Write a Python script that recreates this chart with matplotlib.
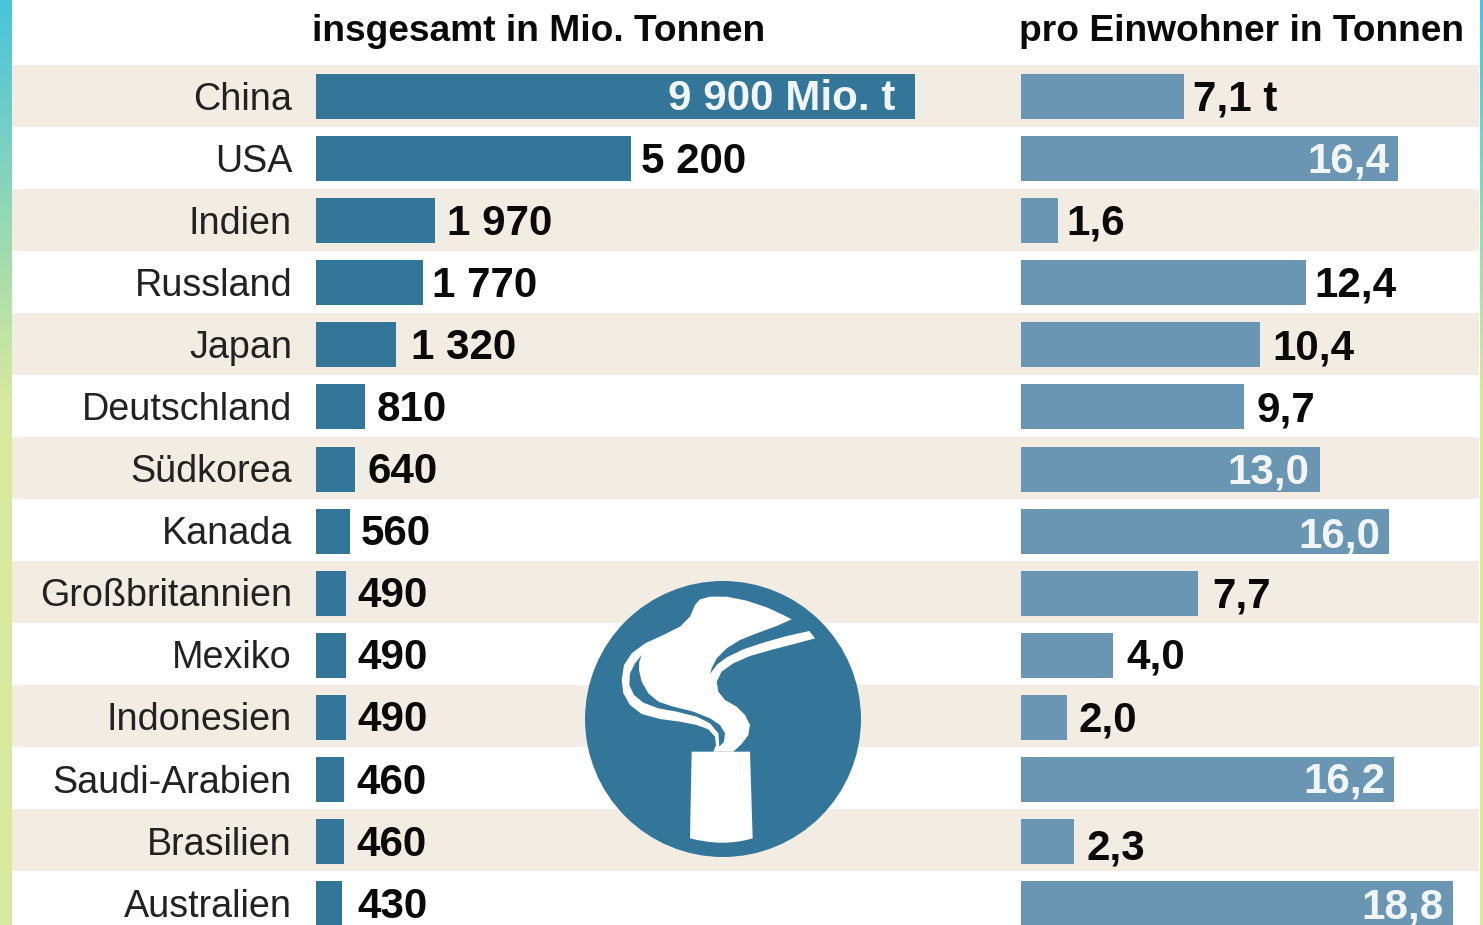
import numpy as np
from matplotlib import pyplot as plt
from matplotlib.colors import LinearSegmentedColormap
from matplotlib.patches import Circle, Polygon
from matplotlib.path import Path
from matplotlib.patches import PathPatch

countries = ["China", "USA", "Indien", "Russland", "Japan", "Deutschland", "Südkorea", "Kanada",
             "Großbritannien", "Mexiko", "Indonesien", "Saudi-Arabien", "Brasilien", "Australien"]
total_mio_t = [9900, 5200, 1970, 1770, 1320, 810, 640, 560, 490, 490, 490, 460, 460, 430]
total_labels = ["9 900 Mio. t", "5 200", "1 970", "1 770", "1 320", "810", "640", "560",
                "490", "490", "490", "460", "460", "430"]
per_head_t = [7.1, 16.4, 1.6, 12.4, 10.4, 9.7, 13.0, 16.0, 7.7, 4.0, 2.0, 16.2, 2.3, 18.8]
per_head_labels = ["7,1 t", "16,4", "1,6", "12,4", "10,4", "9,7", "13,0", "16,0",
                   "7,7", "4,0", "2,0", "16,2", "2,3", "18,8"]

W, H = 1483, 925
DARK = "#34759a"
LIGHT = "#6a96b3"
BAND = "#f3ece3"
ROW_H = 62.1
ROW_0 = 96.5
BAND_H = 62

plt.rcParams["font.family"] = ["Liberation Sans", "DejaVu Sans"]
fig = plt.figure(figsize=(W / 100, H / 100), dpi=100)

# background in pixels
bg = fig.add_axes([0, 0, 1, 1])
bg.set_xlim(0, W)
bg.set_ylim(H, 0)
bg.axis("off")

strip = LinearSegmentedColormap.from_list(
    "strip", [(0, "#48c4dc"), (0.12, "#6fcdc8"), (0.28, "#a4dcae"), (0.43, "#d6e99c"), (1, "#d6e99c")])
grad = np.linspace(0, 1, 256).reshape(-1, 1)
bg.imshow(grad, cmap=strip, extent=(0, 12, H, 0), aspect="auto")
bg.imshow(grad, cmap=strip, extent=(1480, W, H, 0), aspect="auto")
bg.set_xlim(0, W)
bg.set_ylim(H, 0)

for i, name in enumerate(countries):
    cy = ROW_0 + i * ROW_H
    if i % 2 == 0:
        top = 65 + i * BAND_H
        bg.fill_between([12, 1478.5], top, top + BAND_H, color=BAND, lw=0)
    bg.text(292, cy + 13, name, ha="right", va="baseline", fontsize=27.2, color="#222222")

bg.text(312, 41, "insgesamt in Mio. Tonnen", fontsize=26.7, fontweight="bold", color="#0a0a0a")
bg.text(1019, 41, "pro Einwohner in Tonnen", fontsize=26.7, fontweight="bold", color="#0a0a0a")

bg.add_patch(Circle((723, 719), 138, color=DARK, lw=0, zorder=3))


def icon_pts(pts):
    return [(570 + x / 3, 570 + y / 3) for x, y in pts]


smoke = [(390, 88), (420, 80), (470, 80), (530, 92), (590, 112), (640, 135), (665, 148), (620, 168),
         (560, 190), (510, 210), (470, 235), (440, 265), (425, 295), (420, 312), (440, 285), (470, 262),
         (520, 238), (580, 218), (650, 198), (718, 183), (735, 205), (680, 220), (610, 238), (540, 258),
         (490, 280), (455, 305), (440, 335), (445, 365), (465, 390), (500, 410), (525, 435), (540, 465),
         (535, 495), (515, 522), (490, 545), (430, 545), (438, 525), (435, 500), (415, 478), (380, 465),
         (330, 455), (270, 447), (215, 432), (180, 405), (160, 370), (155, 330), (162, 285), (185, 250),
         (225, 220), (280, 195), (330, 170), (360, 140), (375, 105)]
bg.add_patch(Polygon(icon_pts(smoke), closed=True, fc="white", lw=0, zorder=4))

wisp = [(215, 255), (195, 280), (180, 310), (178, 345), (192, 375), (220, 398), (265, 415), (320, 425),
        (380, 440), (420, 460), (445, 490), (448, 530), (462, 515), (465, 490), (450, 465), (420, 445),
        (370, 425), (310, 410), (265, 395), (235, 370), (215, 335), (207, 300), (208, 275)]
bg.add_patch(Polygon(icon_pts(wisp), closed=True, fc=DARK, lw=0, zorder=5))

stack = [(365, 545), (540, 545), (548, 805), (480, 825), (420, 820), (360, 805), (365, 545)]
stack_codes = [Path.MOVETO, Path.LINETO, Path.LINETO, Path.CURVE4, Path.CURVE4, Path.CURVE4, Path.CLOSEPOLY]
bg.add_patch(PathPatch(Path(icon_pts(stack), stack_codes), fc="white", lw=0, zorder=6))


def bar_axes(x0, x1, xmax):
    ax = fig.add_axes([x0 / W, 0, (x1 - x0) / W, 1])
    ax.set_xlim(0, xmax)
    ax.set_ylim((H - ROW_0) / ROW_H, -ROW_0 / ROW_H)
    ax.axis("off")
    return ax


# per-row gaps between bar end and label
left_gap = [-20, 10, 12, 9, 15, 12, 13, 11, 12, 12, 12, 13, 13, 15]
right_gap = [9, -9, 9, 8, 12, 12, -11, -9, 14, 13, 12, -8, 13, -10]
right_nudge = [0, 0, 0, 0, -1, -1, 0, -2, 0, 1, 0, 1, -4, -1]

y = np.arange(len(countries))
ax1 = bar_axes(316, 916, 600 / 0.0605)
ax1.barh(y, total_mio_t, height=45 / ROW_H, color=DARK)
ax2 = bar_axes(1021, 1478, 457 / 23.0)
ax2.barh(y, per_head_t, height=45 / ROW_H, color=LIGHT)

for ax, values, labels, gaps, nudges in [(ax1, total_mio_t, total_labels, left_gap, [0] * 14),
                                         (ax2, per_head_t, per_head_labels, right_gap, right_nudge)]:
    for i, v in enumerate(values):
        inside = gaps[i] < 0
        ax.annotate(labels[i], xy=(v, i), xytext=(gaps[i], -14 + nudges[i]), textcoords="offset pixels",
                    ha="right" if inside else "left", va="baseline", fontsize=30.3,
                    fontweight="bold", color="#f2f5f7" if inside else "#0a0a0a",
                    annotation_clip=False, zorder=8)

fig.savefig("out.png", dpi=100, facecolor="white")
